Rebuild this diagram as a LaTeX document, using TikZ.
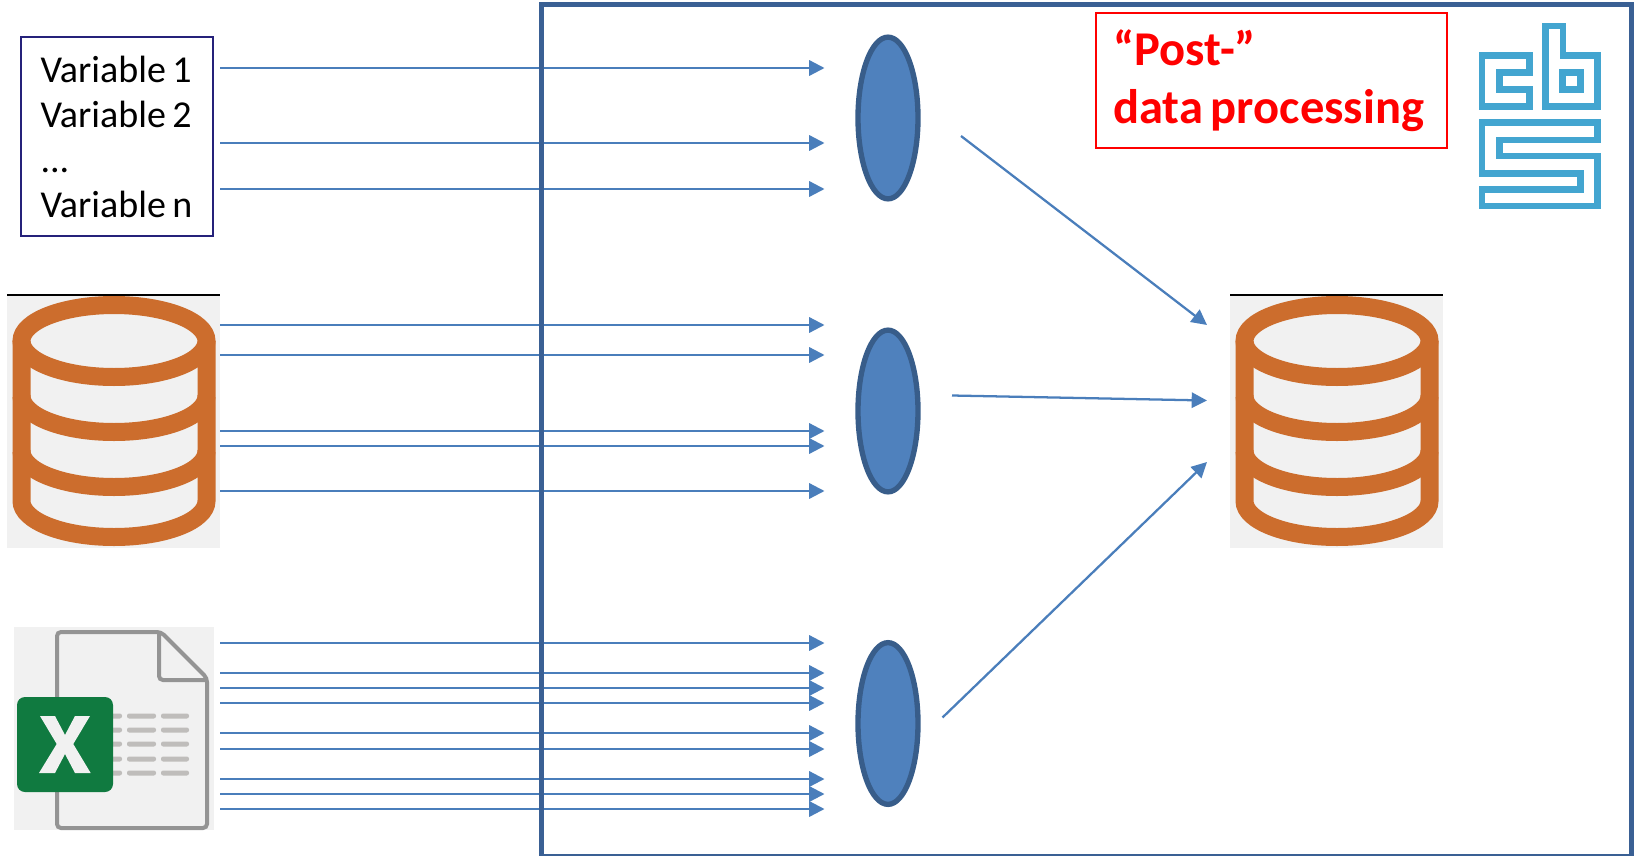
\documentclass[tikz,border=0pt]{standalone}
\usepackage{fontspec}
\setmainfont{Carlito}
\usetikzlibrary{arrows.meta,shapes.geometric}
\definecolor{framec}{HTML}{3A6094}
\definecolor{arrowc}{HTML}{4A7EBB}
\definecolor{ellf}{HTML}{4F81BD}
\definecolor{elld}{HTML}{385D8A}
\definecolor{dbc}{HTML}{CC6D2D}
\definecolor{iconbg}{HTML}{F1F1F1}
\definecolor{docg}{HTML}{949494}
\definecolor{barg}{HTML}{BFBDBB}
\definecolor{xlg}{HTML}{107A40}
\definecolor{cbsc}{HTML}{43A5D0}
\definecolor{navyb}{HTML}{25217A}
\tikzset{
  x=0.75pt,y=-0.75pt,
  flow/.style={draw=arrowc,line width=1.7pt,-{Triangle[length=11.5pt,width=11.5pt]}},
  blob/.style={ellipse,draw=elld,fill=ellf,line width=4pt,inner sep=0pt,minimum width=45pt,minimum height=121.3pt},
  dbline/.style={draw=dbc,line width=13.5pt},
  cbsline/.style={draw=cbsc,line width=5pt,miter limit=10},
  bar/.style={fill=barg,rounded corners=1.6pt},
  pics/dbicon/.style={code={
    \fill[iconbg] (0,0) rectangle (213,253);
    \draw[black,line width=1pt] (0,0) -- (213,0);
    \draw[dbline] (107,46) ellipse [x radius=92.5,y radius=-36];
    \draw[dbline] (14.5,46) -- (14.5,206) arc [start angle=180,end angle=360,x radius=92.5,y radius=-36] -- (199.5,46);
    \draw[dbline] (14.5,101) arc [start angle=180,end angle=360,x radius=92.5,y radius=-36];
    \draw[dbline] (14.5,156) arc [start angle=180,end angle=360,x radius=92.5,y radius=-36];
  }}
}
\begin{document}
\begin{tikzpicture}
\useasboundingbox (0,0) rectangle (1634,856);
% icons
\pic at (7,295) {dbicon};
\pic at (1230,295) {dbicon};
% excel
\fill[iconbg] (14,627) rectangle (214,830);
\draw[docg,line width=3pt,rounded corners=3pt] (161,632) -- (57,632) -- (57,828) -- (207,828) -- (207,678) -- cycle;
\draw[docg,line width=3pt,rounded corners=3pt] (159,632) -- (159,680) -- (207,680);
\foreach \yy in {716,730,744,759,773}{
  \fill[bar] (110,\yy-2.5) rectangle (122,\yy+2.5);
  \fill[bar] (127,\yy-2.5) rectangle (156,\yy+2.5);
  \fill[bar] (161,\yy-2.5) rectangle (189,\yy+2.5);
}
\fill[xlg,rounded corners=6pt] (17,697) rectangle (113,792);
\fill[iconbg] (40,716) -- (55,716) -- (65,735) -- (75,716) -- (90,716) -- (73.3,744) -- (90.7,773) -- (75,773) -- (65,754) -- (55,773) -- (39,773) -- (56.7,744) -- cycle;
% cbs logo
\begin{scope}[shift={(1440,0)},x=0.25pt,y=-0.25pt]
\draw[cbsline] (268,320) -- (126,320) -- (126,166) -- (268,166) -- (268,217) -- (178,217) -- (178,268) -- (268,268) -- cycle;
\draw[cbsline] (316,320) -- (316,78) -- (369,78) -- (369,166) -- (472,166) -- (472,320) -- cycle;
\draw[cbsline] (368,217) rectangle (422,268);
\draw[cbsline] (126,368) -- (472,368) -- (472,420) -- (178,420) -- (178,468) -- (472,468) -- (472,618) -- (126,618) -- (126,568) -- (422,568) -- (422,520) -- (126,520) -- cycle;
\end{scope}
% boxes
\node[draw=navyb,line width=1.3pt,anchor=north west,minimum width=144pt,minimum height=149.5pt,text width=114.5pt,align=left,inner xsep=14.5pt,inner ysep=0pt,font=\fontsize{28.5pt}{33.75pt}\selectfont] (vars) at (20,36) {\spaceskip=.17em\relax Variable 1\\Variable 2\\...\\Variable n};
\node[draw=red,line width=1.4pt,anchor=north west,minimum width=263pt,minimum height=101pt,inner sep=0pt] (post) at (1095,12) {};
\node[anchor=west,text width=250pt,align=left,inner sep=0pt,text=red,font=\fontsize{36.4pt}{43.5pt}\selectfont\bfseries] (posttext) at (1113,81) {\spaceskip=.16em\relax “Post-”\\data processing};
% blobs
\node[blob] (e1) at (888,118) {};
\node[blob] (e2) at (888,411) {};
\node[blob] (e3) at (888,723.5) {};
% connectors
\foreach \yy in {68,143,189,325,355,431,446,491,643,673,688,703,733,749,779,794,809}{
  \coordinate (s\yy) at (220,\yy);
  \coordinate (t\yy) at (824.5,\yy);
  \draw[flow] (s\yy) -- (t\yy);
}
\coordinate (d1) at (961,136);
\coordinate (d2) at (952,395.5);
\coordinate (d3) at (942.5,717.5);
\coordinate (q1) at (1207,325);
\coordinate (q2) at (1207,400.5);
\coordinate (q3) at (1207,462);
\draw[flow] (d1) -- (q1);
\draw[flow] (d2) -- (q2);
\draw[flow] (d3) -- (q3);
% frame
\draw[framec,line width=4pt] (541.5,856) -- (541.5,4.5) -- (1632,4.5) -- (1632,856.5) -- (541.5,856.5);
\end{tikzpicture}
\end{document}
